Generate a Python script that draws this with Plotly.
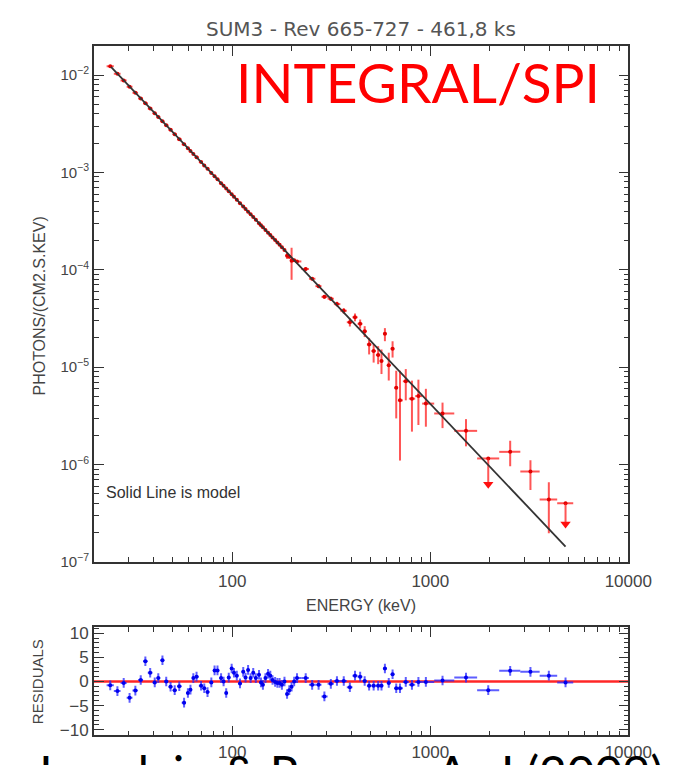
import math
import plotly.graph_objects as go

# ---------------- data ----------------
energy_kev = [24.2, 26.3, 28.3, 30.3, 32.4, 34.5, 36.4, 38.5, 40.6, 42.3,
              44.4, 46.4, 48.8, 51.2, 54.0, 57.1, 59.7, 61.5, 63.6, 66.0,
              69.6, 72.2, 75.0, 78.4, 81.4, 84.2, 87.8, 90.4, 93.2, 96.0,
              99.3, 102.0, 105.4, 109.4, 113.6, 116.7, 120.2, 123.8, 127.6, 131.5,
              136.5, 139.6, 142.8, 147.1, 151.6, 155.6, 159.7, 164.6, 169.0, 173.4,
              178.1, 183.5, 189.1, 194.1, 199.3, 205.4, 212.3, 234.9, 253.2, 272.9,
              291.9, 314.6, 337.8, 365.6, 392.5, 416.7, 442.4, 466.3, 491.0, 517.6,
              545.5, 567.0, 590.0, 617.0, 645.0, 673.0, 703.0, 752.0, 808.0, 871.0,
              950.0, 1153.0, 1515.0, 1962.0, 2532.0, 3205.0, 3969.0, 4820.0]

flux = [1.232e-2, 1.031e-2, 8.81e-3, 7.61e-3, 6.59e-3, 5.76e-3, 5.13e-3, 4.55e-3, 4.06e-3, 3.72e-3,
        3.35e-3, 3.05e-3, 2.74e-3, 2.47e-3, 2.20e-3, 1.955e-3, 1.777e-3, 1.666e-3, 1.550e-3, 1.433e-3,
        1.278e-3, 1.182e-3, 1.089e-3, 9.90e-4, 9.14e-4, 8.50e-4, 7.77e-4, 7.29e-4, 6.83e-4, 6.41e-4,
        5.96e-4, 5.63e-4, 5.25e-4, 4.84e-4, 4.47e-4, 4.22e-4, 3.96e-4, 3.72e-4, 3.48e-4, 3.27e-4,
        3.01e-4, 2.87e-4, 2.74e-4, 2.57e-4, 2.41e-4, 2.28e-4, 2.15e-4, 2.02e-4, 1.906e-4, 1.805e-4,
        1.703e-4, 1.597e-4, 1.395e-4, 1.36e-4, 1.24e-4, 1.254e-4, 1.22e-4, 1.02e-4, 8.1e-5, 6.8e-5,
        5.28e-5, 5.05e-5, 4.45e-5, 3.8e-5, 2.90e-5, 3.26e-5, 2.79e-5, 2.34e-5, 1.713e-5, 1.466e-5,
        1.335e-5, 1.161e-5, 2.21e-5, 1.05e-5, 1.547e-5, 6.14e-6, 4.57e-6, 7.17e-6, 4.75e-6, 5.05e-6,
        4.23e-6, 3.35e-6, 2.22e-6, 1.156e-6, 1.351e-6, 8.48e-7, 4.37e-7, 4.02e-7]

flux_err_hi = [0.0] * 52 + [
    1.0e-5, 5.0e-6, 4.5e-5, 4.0e-6, 4.0e-6, 4.0e-6, 3.0e-6, 3.0e-6,
    2.5e-6, 2.5e-6, 2.5e-6, 2.5e-6, 2.8e-6, 3.0e-6, 3.0e-6, 3.0e-6, 2.9e-6, 2.5e-6,
    3.1e-6, 3.6e-6, 3.1e-6, 3.6e-6, 3.0e-6, 3.06e-6, 4.63e-6, 2.4e-6, 2.53e-6, 2.4e-6,
    1.77e-6, 0.98e-6, 0.71e-6, 0.0, 0.41e-6, 0.26e-6, 2.2e-7, 0.0]

flux_err_lo = [0.0] * 52 + [
    1.0e-5, 5.0e-6, 4.5e-5, 4.0e-6, 4.0e-6, 4.0e-6, 3.0e-6, 3.0e-6,
    2.5e-6, 2.5e-6, 2.5e-6, 2.5e-6, 2.8e-6, 3.0e-6, 3.0e-6, 3.0e-6, 3.6e-6, 3.5e-6,
    2.6e-6, 3.1e-6, 3.6e-6, 3.2e-6, 2.9e-6, 3.16e-6, 3.47e-6, 2.6e-6, 2.57e-6, 2.5e-6,
    1.78e-6, 0.98e-6, 0.68e-6, 0.0, 0.39e-6, 0.30e-6, 2.4e-7, 0.0]

upper_limit_energy = [1962.0, 4820.0]
upper_limit_flux = [1.156e-6, 4.02e-7]
upper_limit_tip = [6.3e-7, 2.45e-7]

residuals = [-0.8, -2.0, -0.3, -3.4, -1.9, 0.3, 4.2, 1.8, -0.2, 0.7,
             4.4, 0.0, -1.1, -1.8, -1.0, -4.4, -2.4, -1.7, 0.7, 1.0,
             -0.9, -1.4, -2.2, -0.2, 2.3, 2.3, 0.7, 0.0, -2.4, 0.8,
             2.7, 1.8, 1.2, -0.4, 2.0, 0.8, 2.4, 0.7, 1.8, 0.7,
             1.4, -0.2, -0.7, 0.7, 1.6, 1.2, 0.3, -0.1, -0.3, -0.3,
             -0.7, 0.0, -2.6, -1.8, -1.1, 0.0, 0.7, 0.7, -0.7, -0.7,
             -3.1, -0.5, 0.1, 0.1, -1.2, 1.2, 1.0, 0.1, -0.9, -0.9,
             -0.9, -0.9, 2.7, -0.3, 1.5, -1.4, -1.4, -0.1, -0.7, -0.1,
             -0.1, 0.2, 0.8, -1.8, 2.2, 2.0, 1.2, -0.2]
residual_err = 1.0

first_bin_edge_kev = 23.2
last_bin_edge_kev = 5270.0

model_energy = [24.4, 4820.0]
model_flux = [1.213e-2, 1.44e-7]

x_tick_vals = [100, 1000, 10000]
x_tick_text = ["100", "1000", "10000"]
y_tick_vals = [1e-7, 1e-6, 1e-5, 1e-4, 1e-3, 1e-2]
y_tick_text = ["10<sup>\u22127</sup>", "10<sup>\u22126</sup>", "10<sup>\u22125</sup>",
               "10<sup>\u22124</sup>", "10<sup>\u22123</sup>", "10<sup>\u22122</sup>"]
res_tick_vals = [-10, -5, 0, 5, 10]
res_tick_text = ["\u221210", "\u22125", "0", "5", "10"]

# ---------------- derived bin widths ----------------
edges = [first_bin_edge_kev]
for a, b in zip(energy_kev[:-1], energy_kev[1:]):
    edges.append(math.sqrt(a * b))
edges.append(last_bin_edge_kev)
ex_plus = [edges[i + 1] - e for i, e in enumerate(energy_kev)]
ex_minus = [e - edges[i] for i, e in enumerate(energy_kev)]

W, H = 680, 765
def px_x(p):
    return p / W
def px_y(p):
    return 1 - p / H

X_DOM = [px_x(89), px_x(643)]
Y_MAIN = [px_y(559), px_y(36)]
Y_RES = [px_y(735), px_y(625)]

AX = "#333333"
LBL = "#444444"
FONT = "Liberation Sans"

fig = go.Figure()

red_bar = "rgba(255,30,30,0.75)"
fig.add_trace(go.Scatter(
    x=energy_kev, y=flux, mode="markers",
    marker=dict(color="#e00000", size=4),
    error_x=dict(type="data", symmetric=False, array=ex_plus, arrayminus=ex_minus,
                 color=red_bar, thickness=2, width=0),
    error_y=dict(type="data", symmetric=False, array=flux_err_hi, arrayminus=flux_err_lo,
                 color=red_bar, thickness=2, width=0),
    xaxis="x", yaxis="y", showlegend=False, hoverinfo="skip"))

for e, f, t in zip(upper_limit_energy, upper_limit_flux, upper_limit_tip):
    fig.add_trace(go.Scatter(x=[e, e], y=[f, t], mode="lines",
                             line=dict(color=red_bar, width=2),
                             xaxis="x", yaxis="y", showlegend=False, hoverinfo="skip"))
fig.add_trace(go.Scatter(x=upper_limit_energy, y=upper_limit_tip, mode="markers",
                         marker=dict(symbol="triangle-down", size=9, color="#ff1010"),
                         xaxis="x", yaxis="y", showlegend=False, hoverinfo="skip"))

fig.add_trace(go.Scatter(x=model_energy, y=model_flux, mode="lines",
                         line=dict(color="#333333", width=1.8),
                         xaxis="x", yaxis="y", showlegend=False, hoverinfo="skip"))

blue_bar = "rgba(40,40,255,0.75)"
fig.add_trace(go.Scatter(
    x=energy_kev, y=residuals, mode="markers",
    marker=dict(color="#0000ee", size=4),
    error_x=dict(type="data", symmetric=False, array=ex_plus, arrayminus=ex_minus,
                 color=blue_bar, thickness=2, width=0),
    error_y=dict(type="constant", value=residual_err, color=blue_bar, thickness=2, width=0),
    xaxis="x2", yaxis="y2", showlegend=False, hoverinfo="skip"))

minor_x = [m * 10 ** d for d in (1, 2, 3) for m in range(2, 10) if 20 < m * 10 ** d < 10000]
minor_y = [m * 10.0 ** d for d in range(-7, -1) for m in range(2, 10)]

common_x = dict(type="log", range=[math.log10(20), 4], domain=X_DOM,
                tickvals=x_tick_vals, ticktext=x_tick_text, ticks="inside", ticklen=10,
                tickwidth=1.2, tickcolor=AX, showline=True, linecolor=AX, linewidth=1.5,
                mirror="allticks", showgrid=False, zeroline=False,
                tickfont=dict(family=FONT, size=17, color=LBL),
                minor=dict(tickvals=minor_x, ticks="inside", ticklen=5, tickcolor=AX,
                           tickwidth=1.2, showgrid=False))

fig.update_layout(
    width=W, height=H, margin=dict(l=0, r=0, t=0, b=0),
    paper_bgcolor="white", plot_bgcolor="white",
    xaxis=dict(common_x, anchor="y", ticklabelstandoff=3),
    yaxis=dict(type="log", range=[-7, -1.706], domain=Y_MAIN, anchor="x",
               tickvals=y_tick_vals, ticktext=y_tick_text, ticks="inside", ticklen=10,
               tickwidth=1.2, tickcolor=AX, showline=True, linecolor=AX, linewidth=1.5,
               mirror="allticks", showgrid=False, zeroline=False,
               tickfont=dict(family=FONT, size=15, color=LBL),
               minor=dict(tickvals=minor_y, ticks="inside", ticklen=5, tickcolor=AX,
                          tickwidth=1.2, showgrid=False)),
    xaxis2=dict(common_x, anchor="y2"),
    yaxis2=dict(range=[-11.2, 11.3], domain=Y_RES, anchor="x2",
                tickvals=res_tick_vals, ticktext=res_tick_text, ticks="inside", ticklen=10,
                tickwidth=1.2, tickcolor=AX, showline=True, linecolor=AX, linewidth=1.5,
                mirror="allticks", showgrid=False, zeroline=False,
                tickfont=dict(family=FONT, size=17, color=LBL),
                minor=dict(dtick=1, ticks="inside", ticklen=5, tickcolor=AX,
                           tickwidth=1.2, showgrid=False)),
    shapes=[dict(type="line", xref="x2 domain", yref="y2", x0=0, x1=1, y0=0, y1=0,
                 line=dict(color="rgba(255,0,0,0.85)", width=2.5), layer="below")],
)

ann = [
    dict(text="SUM3 - Rev 665-727 - 461,8 ks", x=px_x(366), y=px_y(18),
         font=dict(family="DejaVu Sans", size=20, color="#555555")),
    dict(text="INTEGRAL/SPI", x=px_x(425), y=px_y(72),
         font=dict(family="Lato", size=55, color="#ff0000")),
    dict(text="Solid Line is model", x=px_x(99), y=px_y(489), xanchor="left",
         font=dict(family=FONT, size=16, color="#333333")),
    dict(text="PHOTONS/(CM2.S.KEV)", x=px_x(33), y=px_y(299), textangle=-90,
         font=dict(family=FONT, size=16, color="#444444")),
    dict(text="ENERGY (keV)", x=px_x(366), y=px_y(603),
         font=dict(family=FONT, size=16, color="#444444")),
    dict(text="RESIDUALS", x=px_x(30), y=px_y(680), textangle=-90,
         font=dict(family=FONT, size=15, color="#444444")),
    dict(text="Jourdain &amp; Roques ApJ (2009)", x=px_x(352), y=px_y(742), yanchor="top",
         font=dict(family="Lato", size=48, color="#000000")),
]
for a in ann:
    a.setdefault("xanchor", "center")
    a.setdefault("yanchor", "middle")
    a.update(xref="paper", yref="paper", showarrow=False)
fig.update_layout(annotations=ann)

fig.write_html("out.html")
